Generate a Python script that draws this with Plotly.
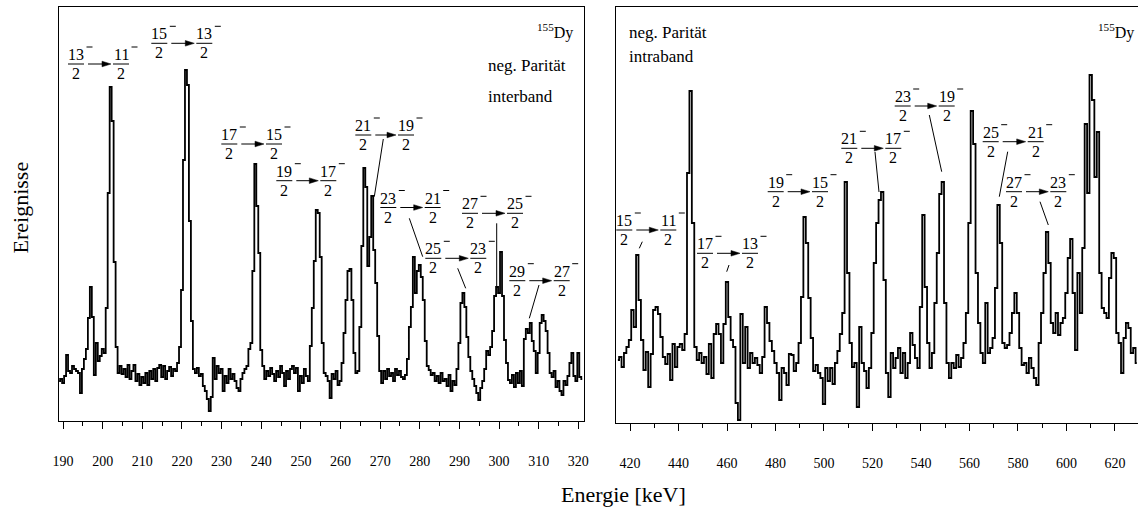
import numpy as np
import plotly.graph_objects as go

# ---------------- data (counts, arbitrary units) ----------------
left_start_kev = 189.0
left_bin_kev = 0.5
left_counts = [
    40, 42, 38, 45, 66, 50, 48, 55, 52, 50, 48, 28, 52, 62, 72, 103, 134, 104, 46, 78,
    60, 65, 72, 68, 113, 228, 334, 300, 159, 74, 48, 55, 47, 52, 44, 56, 42, 50, 56, 40,
    47, 36, 44, 38, 48, 36, 50, 42, 52, 40, 53, 56, 44, 55, 42, 50, 54, 45, 52, 50,
    58, 74, 131, 261, 351, 336, 200, 100, 52, 48, 53, 45, 47, 35, 30, 22, 10, 24, 63, 42,
    55, 48, 52, 30, 45, 38, 52, 42, 47, 40, 33, 30, 42, 48, 52, 55, 72, 78, 150, 257,
    215, 168, 71, 55, 42, 50, 45, 53, 47, 40, 50, 44, 55, 48, 35, 50, 42, 52, 55, 48,
    53, 30, 45, 38, 52, 45, 40, 75, 113, 160, 211, 208, 164, 78, 48, 45, 40, 23, 47, 42,
    50, 36, 40, 58, 88, 121, 150, 152, 121, 68, 48, 50, 94, 175, 253, 234, 155, 184, 225, 171,
    138, 85, 50, 38, 50, 42, 52, 45, 48, 40, 52, 46, 50, 44, 42, 46, 62, 94, 114, 164,
    128, 150, 156, 144, 121, 80, 55, 51, 46, 48, 40, 45, 38, 48, 40, 42, 35, 46, 30, 40,
    36, 52, 78, 118, 128, 114, 84, 64, 50, 42, 35, 28, 21, 33, 40, 52, 70, 66, 74, 90,
    125, 134, 128, 169, 125, 81, 58, 41, 38, 46, 34, 48, 38, 50, 35, 82, 92, 88, 98, 80,
    70, 48, 68, 98, 106, 100, 90, 68, 48, 44, 50, 34, 40, 30, 26, 40, 36, 45, 58, 68,
    45, 40, 68, 44, 42,
]

right_start_kev = 415.0
right_bin_kev = 1.0
right_counts = [
    63, 66, 56, 70, 76, 83, 113, 96, 168, 123, 83, 53, 71, 36, 69, 113, 116, 109, 86, 66,
    59, 69, 43, 79, 56, 76, 79, 73, 89, 250, 332, 200, 76, 63, 70, 60, 66, 49, 79, 45,
    89, 99, 89, 60, 99, 141, 106, 83, 76, 20, 3, 109, 60, 96, 55, 70, 60, 65, 58, 50,
    66, 116, 100, 82, 72, 60, 50, 23, 55, 50, 38, 69, 68, 52, 60, 80, 126, 206, 180, 125,
    85, 52, 58, 50, 45, 19, 55, 42, 55, 39, 60, 72, 89, 110, 241, 150, 80, 56, 60, 16,
    96, 60, 52, 35, 55, 90, 160, 200, 223, 231, 143, 50, 26, 70, 55, 65, 75, 50, 70, 45,
    60, 90, 78, 65, 55, 116, 208, 136, 80, 55, 70, 120, 170, 229, 241, 120, 60, 45, 60, 55,
    68, 56, 65, 80, 110, 200, 312, 279, 150, 100, 70, 60, 120, 70, 75, 85, 135, 218, 180, 80,
    75, 78, 90, 110, 130, 110, 75, 58, 60, 50, 65, 55, 45, 38, 80, 110, 150, 191, 160, 100,
    90, 110, 88, 100, 105, 130, 165, 184, 130, 73, 150, 110, 175, 299, 230, 348, 323, 246, 291, 150,
    115, 110, 105, 145, 170, 165, 90, 80, 50, 85, 100, 95, 70, 75, 60,
]

left_ticks = [190, 200, 210, 220, 230, 240, 250, 260, 270, 280, 290, 300, 310, 320]
right_ticks = [420, 440, 460, 480, 500, 520, 540, 560, 580, 600, 620]

# transitions: (numerator of initial spin, numerator of final spin)
left_transitions = [("13", "11"), ("15", "13"), ("17", "15"), ("19", "17"), ("21", "19"),
                    ("23", "21"), ("25", "23"), ("27", "25"), ("29", "27")]
right_transitions = [("15", "11"), ("17", "13"), ("19", "15"), ("21", "17"),
                     ("23", "19"), ("25", "21"), ("27", "23")]

left_energy = left_start_kev + left_bin_kev * np.arange(len(left_counts))
right_energy = right_start_kev + right_bin_kev * np.arange(len(right_counts))

# ---------------- layout helpers ----------------
W, H = 1138, 508
FONT = "Liberation Serif"


def px(x):
    return x / W


def py(y):
    return 1 - y / H


fig = go.Figure()
line_style = dict(color="black", width=1.8, shape="hvh")
fig.add_trace(go.Scatter(x=left_energy, y=left_counts, mode="lines", line=line_style,
                         xaxis="x", yaxis="y", showlegend=False, hoverinfo="skip"))
fig.add_trace(go.Scatter(x=right_energy, y=right_counts, mode="lines", line=line_style,
                         xaxis="x2", yaxis="y2", showlegend=False, hoverinfo="skip"))

axis_common = dict(showline=True, mirror=True, linecolor="black", linewidth=1,
                   showgrid=False, zeroline=False, automargin=False)
xcommon = dict(axis_common, ticks="outside", ticklen=7, tickwidth=1, tickcolor="black",
               tickfont=dict(family=FONT, size=14, color="black"), ticklabelstandoff=20)
ycommon = dict(axis_common, ticks="", showticklabels=False)

fig.update_layout(
    width=W, height=H,
    margin=dict(l=0, r=0, t=0, b=0, pad=0),
    paper_bgcolor="white", plot_bgcolor="white",
    xaxis=dict(xcommon, domain=[px(58.5), px(583.5)], range=[188.84, 321.31],
               tickvals=left_ticks, anchor="y",
               minor=dict(dtick=5, tick0=190, ticklen=4, ticks="outside", tickcolor="black")),
    yaxis=dict(ycommon, domain=[py(421), py(7.3)], range=[0, 413.7], anchor="x"),
    xaxis2=dict(xcommon, domain=[px(615.7), 1.0], range=[414.1, 629.5],
                tickvals=right_ticks, anchor="y2",
                minor=dict(dtick=10, tick0=420, ticklen=4, ticks="outside", tickcolor="black")),
    yaxis2=dict(ycommon, domain=[py(423), py(7.3)], range=[0, 415.7], anchor="x2"),
)

annotations = []
shapes = []


def text(x, y, s, size, xanchor="center", yanchor="middle", angle=0):
    annotations.append(dict(x=px(x), y=py(y), xref="paper", yref="paper", text=s,
                            showarrow=False, xanchor=xanchor, yanchor=yanchor,
                            textangle=angle,
                            font=dict(family=FONT, size=size, color="black")))


def seg(x0, y0, x1, y1, w=1):
    shapes.append(dict(type="line", xref="paper", yref="paper",
                       x0=px(x0), y0=py(y0), x1=px(x1), y1=py(y1),
                       line=dict(color="black", width=w)))


def arrow(x0, x1, y):
    # shaft plus filled head (tip at x1)
    seg(x0, y, x1 - 7, y)
    path = "M {} {} L {} {} L {} {} Z".format(px(x1), py(y), px(x1 - 9), py(y - 2.8),
                                              px(x1 - 9), py(y + 2.8))
    shapes.append(dict(type="path", xref="paper", yref="paper", path=path,
                       fillcolor="black", line=dict(color="black", width=0.5)))


def frac(xc, ybar, num):
    text(xc, ybar - 9.5, num, 16)
    text(xc, ybar + 9.5, "2", 16)
    seg(xc - 8, ybar, xc + 8, ybar)
    seg(xc + 10.5, ybar - 17, xc + 16.5, ybar - 17)


def transition(x1, x2, ybar, n1, n2, pointer=None):
    frac(x1, ybar, n1)
    frac(x2, ybar, n2)
    arrow(x1 + 12, x2 - 10, ybar)
    if pointer:
        seg(*pointer)


# label positions (figure pixels)
left_label_pos = [
    (76, 121, 64, None),
    (159.3, 204.3, 43.3, None),
    (229.3, 274, 144, None),
    (284.3, 328.3, 180.7, None),
    (363.3, 406, 135, (383.3, 139, 374.3, 196.7)),
    (388.3, 432.7, 207.5, (409.3, 218.3, 422.7, 256.7)),
    (433.3, 478.3, 258.3, (457.7, 268.3, 465.7, 288.3)),
    (470, 515, 213.3, (496.7, 223.3, 496.7, 287.3)),
    (517.3, 561.7, 280.7, (539, 285, 529.3, 318.3)),
]
right_label_pos = [
    (624.3, 668.3, 230, (642.3, 241.7, 639.3, 248.3)),
    (705, 750, 253.3, (729, 265, 726.7, 271.7)),
    (775.7, 820, 191.7, None),
    (849.3, 893.3, 148.3, (875, 152, 879, 192)),
    (902.7, 946.7, 106, (929.3, 115, 941.7, 171.7)),
    (990.7, 1035.7, 141.7, (1007.7, 151.7, 999.3, 196.7)),
    (1014, 1058.3, 191.7, (1040, 201.7, 1048.3, 225)),
]

for (n1, n2), (x1, x2, yb, ptr) in zip(left_transitions, left_label_pos):
    transition(x1, x2, yb, n1, n2, ptr)
for (n1, n2), (x1, x2, yb, ptr) in zip(right_transitions, right_label_pos):
    transition(x1, x2, yb, n1, n2, ptr)

# panel texts
text(575, 31, "<sup>155</sup>Dy", 16, xanchor="right")
text(485.7, 65, "neg. Parität", 17, xanchor="left")
text(485.7, 96.7, "interband", 17, xanchor="left")
text(1136, 31, "<sup>155</sup>Dy", 16, xanchor="right")
text(626.7, 32.3, "neg. Parität", 17, xanchor="left")
text(626.7, 56.7, "intraband", 17, xanchor="left")

# axis titles
text(623, 494, "Energie [keV]", 22)
text(20, 207.5, "Ereignisse", 22, angle=-90)

fig.update_layout(annotations=annotations, shapes=shapes)
fig.write_html("out.html", config={"displayModeBar": False},
               post_script="document.body.style.margin='0';document.body.style.overflow='hidden';")
